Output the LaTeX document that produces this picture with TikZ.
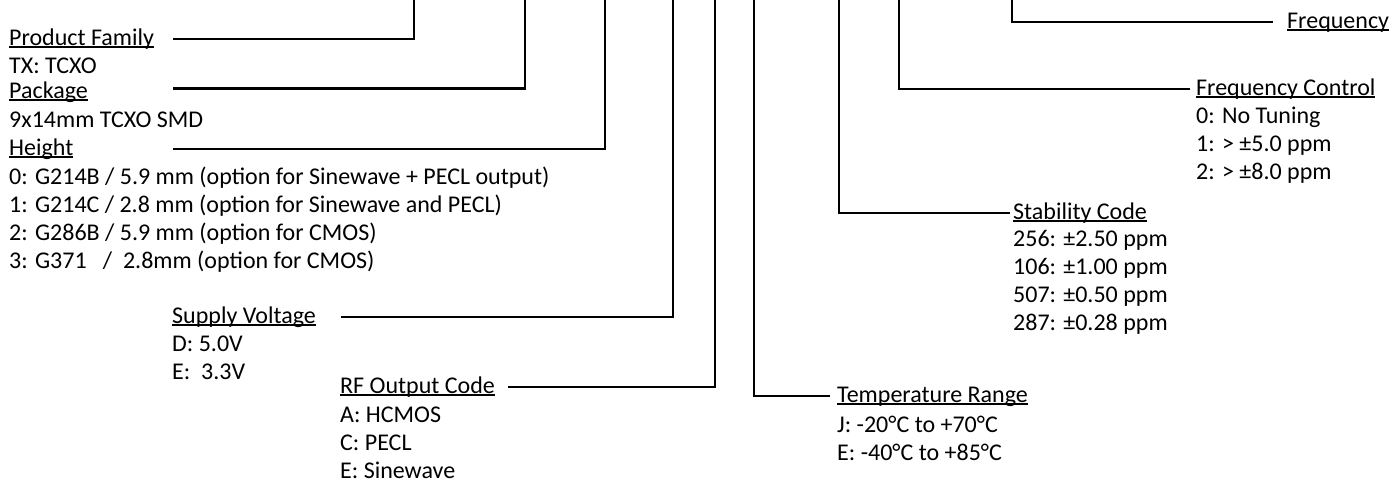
\documentclass[tikz,border=0pt]{standalone}
\usepackage{fontspec}
\setmainfont{Carlito}
\usepackage{tikz}
\usetikzlibrary{positioning}
\newcommand{\uword}[1]{\setbox0=\hbox{#1}\rlap{\rule[-2.6pt]{\wd0}{1.2pt}}\box0}
\newcommand{\rowlist}[1]{\begin{tabular}[t]{@{}l@{}}#1\end{tabular}}
\tikzstyle{head} = [inner sep=0pt, text height=17pt, text depth=5pt, anchor=west]
\tikzstyle{vals} = [inner sep=0pt, anchor=base west]
\tikzstyle{lead} = [line width=2.4pt]

\begin{document}
\begin{tikzpicture}[x=1pt, y=-1pt, font=\fontsize{24}{28}\selectfont]
\useasboundingbox (0,0) rectangle (1394,482);

\coordinate (lcol) at (173,0);
\foreach \n/\x in {fam/414, pkg/525, hgt/605, sup/673, rfo/715, tmp/754, stb/839, fct/899, frq/1012}
    \coordinate (v\n) at (\x,0);

\node (fam) [head] at (9,39) {\uword{Product Family}};
\node (famv) [vals] at ([yshift=-28pt]fam.base west) {TX: TCXO};
\node (pkg) [head] at (9,92) {\uword{Package}};
\node (pkgv) [vals] at ([yshift=-29pt]pkg.base west) {9x14mm TCXO SMD};
\node (hgt) [head] at (9,149) {\uword{Height}};
\node (hgtv) [vals] at ([yshift=-29pt]hgt.base west) {\rowlist{0: G214B / 5.9 mm (option for Sinewave + PECL output)\\
    1: G214C / 2.8 mm (option for Sinewave and PECL)\\
    2: G286B / 5.9 mm (option for CMOS)\\
    3: G371\ \ \ /\ \ 2.8mm (option for CMOS)}};

\node (sup) [head] at (172,317) {\uword{Supply Voltage}};
\node (supv) [vals] at ([yshift=-28pt]sup.base west) {\rowlist{D: 5.0V\\ E:\ \ 3.3V}};
\node (rfo) [head] at (340,387) {\uword{RF Output Code}};
\node (rfov) [vals] at ([yshift=-29pt]rfo.base west) {\rowlist{A: HCMOS\\ C: PECL\\ E: Sinewave}};

\node (tmp) [head] at (837,396) {\uword{Temperature Range}};
\node (tmpv) [vals] at ([yshift=-30pt]tmp.base west) {\rowlist{J: -20°C to +70°C\\ E: -40°C to +85°C}};
\node (stb) [head] at (1013,213) {\uword{Stability Code}};
\node (stbv) [vals] at ([yshift=-27pt]stb.base west) {\rowlist{256: ±2.50 ppm\\ 106: ±1.00 ppm\\ 507: ±0.50 ppm\\ 287: ±0.28 ppm}};
\node (fct) [head] at (1196,89) {\uword{Frequency Control}};
\node (fctv) [vals] at ([yshift=-28pt]fct.base west) {\rowlist{0: No Tuning\\ 1: > ±5.0 ppm\\ 2: > ±8.0 ppm}};
\node (frq) [head] at (1287,22) {\uword{Frequency}};

\draw [lead] (fam.east -| lcol) -| (vfam);
\draw [lead] ([yshift=3.5pt]pkg.east -| lcol) -| (vpkg);
\draw [lead] (hgt.east -| lcol) -| (vhgt);
\draw [lead] ([xshift=25pt]sup.east) -| (vsup);
\draw [lead] ([xshift=13pt]rfo.east) -| (vrfo);
\draw [lead] ([xshift=-7pt]tmp.west) -| (vtmp);
\draw [lead] ([xshift=-3pt]stb.west) -| (vstb);
\draw [lead] ([xshift=-6pt]fct.west) -| (vfct);
\draw [lead] ([xshift=-14pt]frq.west) -| (vfrq);
\end{tikzpicture}
\end{document}
